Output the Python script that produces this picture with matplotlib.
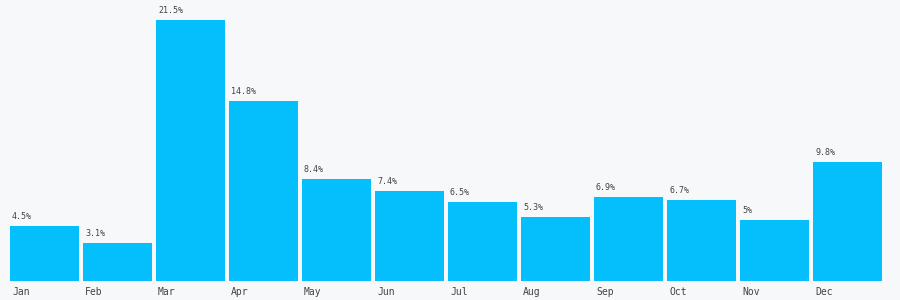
import matplotlib
matplotlib.use("Agg")
import matplotlib.pyplot as plt
from matplotlib.transforms import offset_copy

months = ["Jan", "Feb", "Mar", "Apr", "May", "Jun", "Jul", "Aug", "Sep", "Oct", "Nov", "Dec"]
values = [4.5, 3.1, 21.5, 14.8, 8.4, 7.4, 6.5, 5.3, 6.9, 6.7, 5.0, 9.8]
labels = ["4.5%", "3.1%", "21.5%", "14.8%", "8.4%", "7.4%", "6.5%", "5.3%", "6.9%", "6.7%", "5%", "9.8%"]

bg = "#f7f8fa"
bar_color = "#05befc"
text_color = "#444444"
W, H = 900, 300
fig = plt.figure(figsize=(9, 3), dpi=100, facecolor=bg)
ax = fig.add_axes([10 / W, (H - 281) / H, 872 / W, 261 / H])
ax.set_facecolor(bg)
bw = 69 / 73
x = list(range(len(months)))
ax.bar(x, values, width=bw, align="edge", color=bar_color)
ax.set_xlim(0, 11 + bw)
ax.set_ylim(0, 21.5)
for s in ax.spines.values():
    s.set_visible(False)
ax.set_xticks([])
ax.set_yticks([])

for i, (v, lab) in enumerate(zip(values, labels)):
    tr = offset_copy(ax.transData, fig=fig, x=2, y=5, units="dots")
    ax.text(i, v, lab, transform=tr, ha="left", va="bottom", fontsize=6,
            family="DejaVu Sans Mono", color=text_color, clip_on=False)
    tr2 = offset_copy(ax.transData, fig=fig, x=2, y=-11, units="dots")
    ax.text(i, 0, months[i], transform=tr2, ha="left", va="center", fontsize=7,
            family="DejaVu Sans Mono", color=text_color, clip_on=False)

fig.savefig("out.png", dpi=100, facecolor=bg)
